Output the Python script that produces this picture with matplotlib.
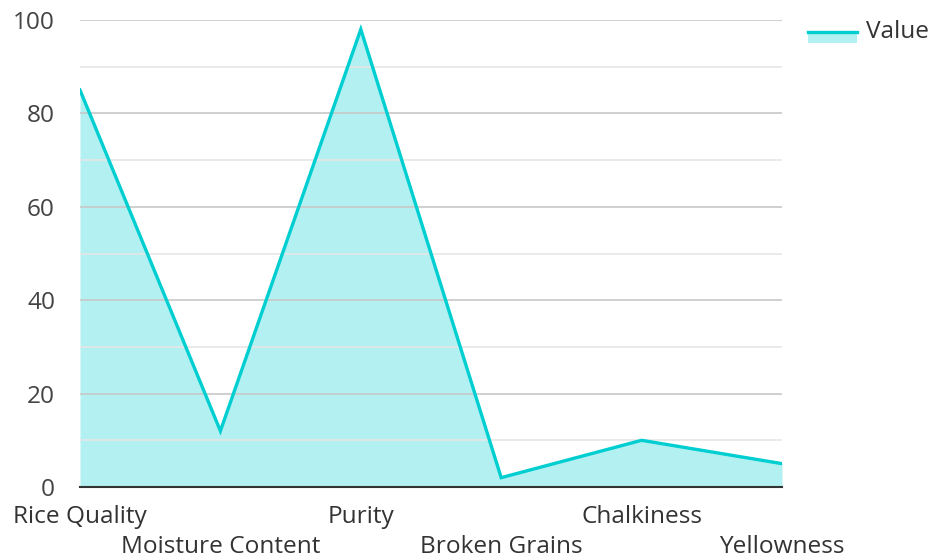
import matplotlib.pyplot as plt
from matplotlib.patches import Rectangle
from matplotlib.lines import Line2D

categories = ['Rice Quality', 'Moisture Content', 'Purity', 'Broken Grains', 'Chalkiness', 'Yellowness']
values = [85, 12, 98, 2, 10, 5]

plt.rcParams['font.family'] = ['Open Sans', 'DejaVu Sans']

W, H = 932, 560
fig = plt.figure(figsize=(W / 100, H / 100), dpi=100)
ax = fig.add_axes([80 / W, 1 - 487 / H, (782 - 80) / W, (487 - 20) / H])

line_color = '#00CED1'
x = list(range(len(categories)))

# grid: darker at every 20, lighter in between
for v in range(10, 101, 10):
    ax.axhline(v, color='#c8c8c8' if v % 20 == 0 else '#e6e6e6', lw=1.2, zorder=3)

ax.fill_between(x, values, 0, color=line_color, alpha=0.3, lw=0, zorder=2)
ax.plot(x, values, color=line_color, lw=2.4, zorder=4, solid_joinstyle='miter')

ax.set_xlim(0, len(categories) - 1)
ax.set_ylim(0, 100)
ax.set_yticks(range(0, 101, 20))
ax.set_xticks(x)
ax.set_xticklabels(categories)
for i, lab in enumerate(ax.get_xticklabels()):
    lab.set_y(0.0 if i % 2 == 0 else -0.064)
ax.tick_params(axis='x', length=0, pad=13, labelsize=17.6, labelcolor='#333333')
ax.tick_params(axis='y', length=0, pad=18, labelsize=17.6, labelcolor='#444444')

for s in ['top', 'right', 'left']:
    ax.spines[s].set_visible(False)
ax.spines['bottom'].set_color('#333333')
ax.spines['bottom'].set_linewidth(1.5)
ax.spines['bottom'].set_zorder(5)

# legend
fig.add_artist(Rectangle((808 / W, 1 - 43 / H), 49 / W, 12 / H, transform=fig.transFigure,
                         facecolor=line_color, alpha=0.3, lw=0))
fig.add_artist(Line2D([808 / W, 857 / W], [1 - 32 / H, 1 - 32 / H], transform=fig.transFigure,
                      color=line_color, lw=2.4))
fig.text(866 / W, 1 - 32 / H, 'Value', fontsize=17.6, color='#333333', va='center', ha='left')

fig.savefig('out.png', dpi=100)
